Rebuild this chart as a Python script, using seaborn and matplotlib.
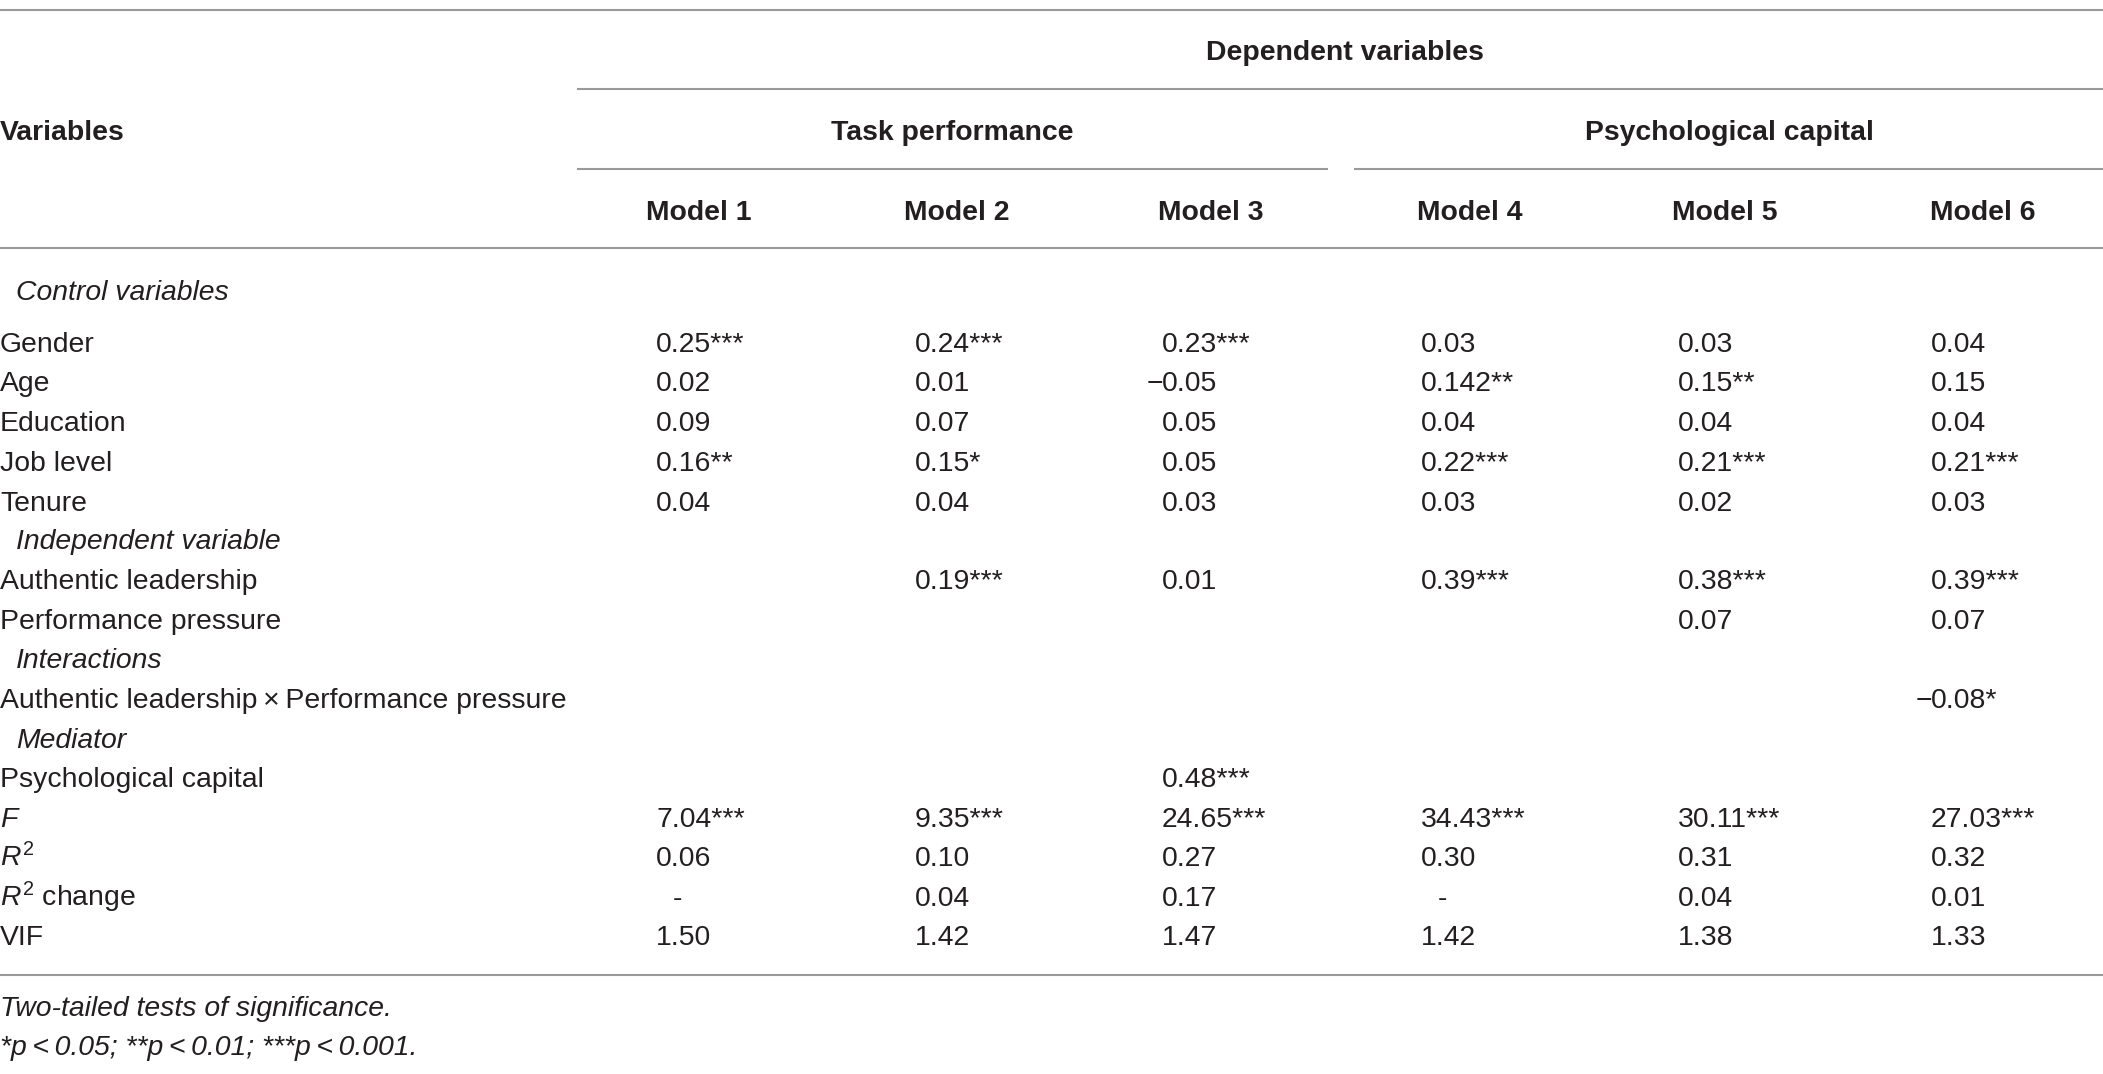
import matplotlib
matplotlib.use("Agg")
import matplotlib.pyplot as plt
import seaborn as sns

# ---------------- data ----------------
dependent_title = "Dependent variables"
stub_title = "Variables"
group_names = ["Task performance", "Psychological capital"]
model_names = ["Model 1", "Model 2", "Model 3", "Model 4", "Model 5", "Model 6"]

row_labels = [
    "Control variables", "Gender", "Age", "Education", "Job level", "Tenure",
    "Independent variable", "Authentic leadership", "Performance pressure",
    "Interactions", "Authentic leadership\u2009\u00d7\u2009Performance pressure",
    "Mediator", "Psychological capital",
    "F", "R2", "R2 change", "VIF",
]
row_kinds = [
    "section", "var", "var", "var", "var", "var",
    "section", "var", "var",
    "section", "var",
    "section", "var",
    "F", "R2", "R2c", "var",
]

model1 = ["", "0.25***", "0.02", "0.09", "0.16**", "0.04", "", "", "", "", "", "", "",
          "7.04***", "0.06", "-", "1.50"]
model2 = ["", "0.24***", "0.01", "0.07", "0.15*", "0.04", "", "0.19***", "", "", "", "", "",
          "9.35***", "0.10", "0.04", "1.42"]
model3 = ["", "0.23***", "\u22120.05", "0.05", "0.05", "0.03", "", "0.01", "", "", "", "", "0.48***",
          "24.65***", "0.27", "0.17", "1.47"]
model4 = ["", "0.03", "0.142**", "0.04", "0.22***", "0.03", "", "0.39***", "", "", "", "", "",
          "34.43***", "0.30", "-", "1.42"]
model5 = ["", "0.03", "0.15**", "0.04", "0.21***", "0.02", "", "0.38***", "0.07", "", "", "", "",
          "30.11***", "0.31", "0.04", "1.38"]
model6 = ["", "0.04", "0.15", "0.04", "0.21***", "0.03", "", "0.39***", "0.07", "", "\u22120.08*", "", "",
          "27.03***", "0.32", "0.01", "1.33"]
models = [model1, model2, model3, model4, model5, model6]

footnotes = ["Two-tailed tests of significance.",
             "*p\u2009<\u20090.05; **p\u2009<\u20090.01; ***p\u2009<\u20090.001."]

# ---------------- layout ----------------
W, H = 2103, 1074
sns.set_theme(style="white")
plt.rcParams["font.family"] = ["Liberation Sans", "DejaVu Sans"]
plt.rcParams["mathtext.fontset"] = "custom"
plt.rcParams["mathtext.rm"] = "Liberation Sans"
plt.rcParams["mathtext.it"] = "Liberation Sans:italic"
plt.rcParams["mathtext.bf"] = "Liberation Sans:bold"

FS = 20.4
TXT = "#231f20"
RULE = "#9a9a9a"
LW = 1.5

fig = plt.figure(figsize=(W / 100, H / 100), dpi=100)
ax = fig.add_axes([0, 0, 1, 1])
ax.set_xlim(0, W)
ax.set_ylim(H, 0)
ax.axis("off")
sns.despine(ax=ax, left=True, bottom=True)

cap_half = 10  # baseline offset from visual centre of caps

def put(x, y, s, **kw):
    kw.setdefault("fontsize", FS)
    kw.setdefault("color", TXT)
    ax.text(x, y + cap_half, s, va="baseline", **kw)

# rules
ax.hlines(10, 0, W, color=RULE, lw=LW)
ax.hlines(89, 577, W, color=RULE, lw=LW)
ax.hlines(169, 577, 1328, color=RULE, lw=LW)
ax.hlines(169, 1354, W, color=RULE, lw=LW)
ax.hlines(248, 0, W, color=RULE, lw=LW)
ax.hlines(975, 0, W, color=RULE, lw=LW)

# headers
put(1345, 50, dependent_title, ha="center", fontweight="bold")
put(0, 130, stub_title, ha="left", fontweight="bold")
group_centers = [952, 1729]
for gx, g in zip(group_centers, group_names):
    put(gx, 130, g, ha="center", fontweight="bold")
header_centers = [699, 957, 1211, 1470, 1725, 1983]
for hx, m in zip(header_centers, model_names):
    put(hx, 210, m, ha="center", fontweight="bold")

# body
row_y = [290, 342, 381, 421, 461, 501, 539, 579, 619, 658, 698, 738, 777,
         817, 856, 896, 935]
for y, lab, kind in zip(row_y, row_labels, row_kinds):
    if kind == "section":
        put(16, y, lab, ha="left", fontstyle="italic")
    elif kind == "F":
        put(0, y, lab, ha="left", fontstyle="italic")
    elif kind == "R2":
        put(0, y, r"$\mathit{R}^{\mathrm{2}}$", ha="left")
    elif kind == "R2c":
        put(0, y, r"$\mathit{R}^{\mathrm{2}}$ change", ha="left")
    else:
        put(0, y, lab, ha="left")

col_x = [656, 915, 1162, 1421, 1678, 1931]
for cx, vals in zip(col_x, models):
    for y, v in zip(row_y, vals):
        if not v:
            continue
        if v == "-":
            put(cx + 21, y, v, ha="center")
        elif v.startswith("\u2212"):
            put(cx + 1, y, "\u2212", ha="right")
            put(cx, y, v[1:], ha="left")
        else:
            put(cx, y, v, ha="left")

# footnotes
put(0, 1006, footnotes[0], ha="left", fontstyle="italic")
put(0, 1045, footnotes[1], ha="left", fontstyle="italic")

fig.savefig("out.png", dpi=100, facecolor="white")
